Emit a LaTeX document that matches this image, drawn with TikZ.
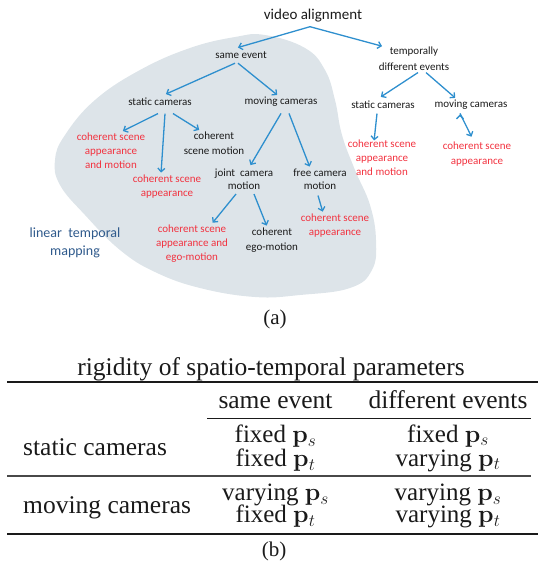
\documentclass[tikz,border=0pt]{standalone}
\usepackage{amsmath}
\usepackage[no-math]{fontspec}
\setmainfont{Liberation Serif}
\newfontfamily\slidefont{Carlito}
\usetikzlibrary{arrows.meta}

\definecolor{linkblue}{HTML}{2E8FCE}
\definecolor{hitred}{HTML}{F2323F}
\definecolor{blobgray}{HTML}{DDE4E9}
\definecolor{mapblue}{HTML}{2F5A8C}
\definecolor{inkblack}{HTML}{1A1A1A}

\begin{document}
\begin{tikzpicture}[x=1pt,y=-1pt,>={Straight Barb[length=3.5pt,width=7pt]},
  every node/.style={inner sep=1.5pt},
  item/.style={font=\slidefont\fontsize{11}{14}\selectfont,align=center,text=inkblack},
  result/.style={item,text=hitred},
  link/.style={->,shorten >=1pt,draw=linkblue,line width=1.3pt},
  tabtext/.style={font=\fontsize{25.5}{23}\selectfont,anchor=base,inner sep=0pt,text=inkblack},
  tabcell/.style={tabtext,font=\fontsize{25}{24}\selectfont,anchor=center,align=center},
  subcap/.style={font=\fontsize{21}{24}\selectfont,text=inkblack}]
  \useasboundingbox (0,0) rectangle (538,571);

  % region of linear temporal mapping
  \fill[blobgray] plot[smooth cycle,tension=0.7] coordinates {(265,35) (305,48)
    (325,70) (335,100) (342,135) (355,170) (370,205) (376,240) (372,270) (350,288)
    (300,295) (255,297) (200,288) (155,272) (120,250) (85,215) (60,185) (55,160)
    (65,135) (95,100) (140,70) (190,48) (235,37)};

  \node[item,font=\slidefont\fontsize{15}{18}\selectfont] (va) at (313,16) {video alignment};
  \node[item] (se) at (241,55) {same event};
  \node[item] (td) at (414,59) {temporally\\[2pt]different events};

  \node[item] (sc) at (160,102) {static cameras};
  \node[item] (mc) at (281,102) {moving cameras};
  \node[result] (csam) at (111,151) {coherent scene\\appearance\\and motion};
  \node[result] (csa) at (167,187) {coherent scene\\appearance};
  \node[item] (csm) at (214,143.5) {coherent\\[1pt]scene motion};
  \node[item] (jcm) at (244,179.5) {joint\ \ camera\\[-1pt]motion};
  \node[item] (fcm) at (320,179.5) {free camera\\[-1pt]motion};
  \node[result] (csae) at (192,244) {coherent scene\\appearance and\\ego-motion};
  \node[item] (cem) at (272,240.5) {coherent\\[1pt]ego-motion};
  \node[result] (csa2) at (335,226) {coherent scene\\appearance};

  \node[item] (sc2) at (383,105) {static cameras};
  \node[item] (mc2) at (471,105) {moving cameras};
  \node[result] (csam2) at (382,158) {coherent scene\\appearance\\and motion};
  \node[result] (csa3) at (477,154.5) {coherent scene\\[1pt]appearance};

  \node[font=\slidefont\fontsize{14}{18}\selectfont,align=center,text=mapblue]
    (ltm) at (75,243) {linear\ \ temporal\\mapping};

  \path[link]
    ([xshift=-3pt,yshift=-2.5pt]va.south) edge ([xshift=-4pt,yshift=2pt]se.north)
    ([xshift=-3pt,yshift=-2.5pt]va.south) edge ([xshift=-31pt,yshift=-1pt]td.north)

    ([xshift=-6pt,yshift=-3pt]se.south) edge ([xshift=5pt,yshift=2pt]sc.north)
    ([xshift=-3pt,yshift=-3pt]se.south) edge ([xshift=-3pt]mc.north)

    ([xshift=-2pt,yshift=-6pt]sc.south) edge ([xshift=11pt]csam.north)
    ([xshift=5pt,yshift=-6pt]sc.south) edge ([xshift=-6pt]csa.north)
    ([xshift=13pt,yshift=-6pt]sc.south) edge ([xshift=-14pt]csm.north)

    ([yshift=-5pt]mc.south) edge ([xshift=6pt,yshift=1.5pt]jcm.north)
    ([xshift=8pt,yshift=-5pt]mc.south) edge ([xshift=-10pt]fcm.north)

    ([xshift=-8pt,yshift=-2.5pt]jcm.south) edge ([xshift=20pt]csae.north)
    ([xshift=10pt,yshift=-2.5pt]jcm.south) edge ([xshift=-5pt]cem.north)
    ([xshift=-2pt,yshift=-4pt]fcm.south) edge ([xshift=-12pt]csa2.north)

    ([xshift=4pt]td.south) edge ([xshift=-3pt,yshift=2pt]sc2.north)
    ([xshift=12pt]td.south) edge ([xshift=-15pt]mc2.north)
    ([xshift=-6pt,yshift=-3pt]sc2.south) edge ([xshift=-8pt,yshift=-3pt]csam2.north)
    ([xshift=-11pt,yshift=-2pt]mc2.south) edge ([xshift=-5pt,yshift=3pt]csa3.north);

  \node[subcap] (capa) at (275,319) {(a)};

  % table of parameter rigidity
  \node[tabtext] (title) at (271,375) {rigidity of spatio-temporal parameters};
  \node[tabtext] (hse) at (275.5,408) {same event};
  \node[tabtext] (hde) at (448,408) {different events};
  \node[tabtext,anchor=base west] (rsc) at (23,455) {static cameras};
  \node[tabtext,anchor=base west] (rmc) at (23,513) {moving cameras};

  \node[tabcell] (c11) at (275.5,448) {fixed $\mathbf{p}_s$\\fixed $\mathbf{p}_t$};
  \node[tabcell] (c12) at (448,448) {fixed $\mathbf{p}_s$\\varying $\mathbf{p}_t$};
  \node[tabcell] (c21) at (275.5,506) {varying $\mathbf{p}_s$\\[-2pt]fixed $\mathbf{p}_t$};
  \node[tabcell] (c22) at (448,506) {varying $\mathbf{p}_s$\\[-2pt]varying $\mathbf{p}_t$};

  \draw[inkblack,line width=2.3pt] (7,382) -- (538,382);
  \draw[inkblack,line width=0.9pt] (207,418) -- (531,418);
  \draw[inkblack!80,line width=1.2pt] (7,476) -- (531,476);
  \draw[inkblack,line width=2.3pt] (7,534) -- (538,534);

  \node[subcap] (capb) at (274,551) {(b)};
\end{tikzpicture}
\end{document}
